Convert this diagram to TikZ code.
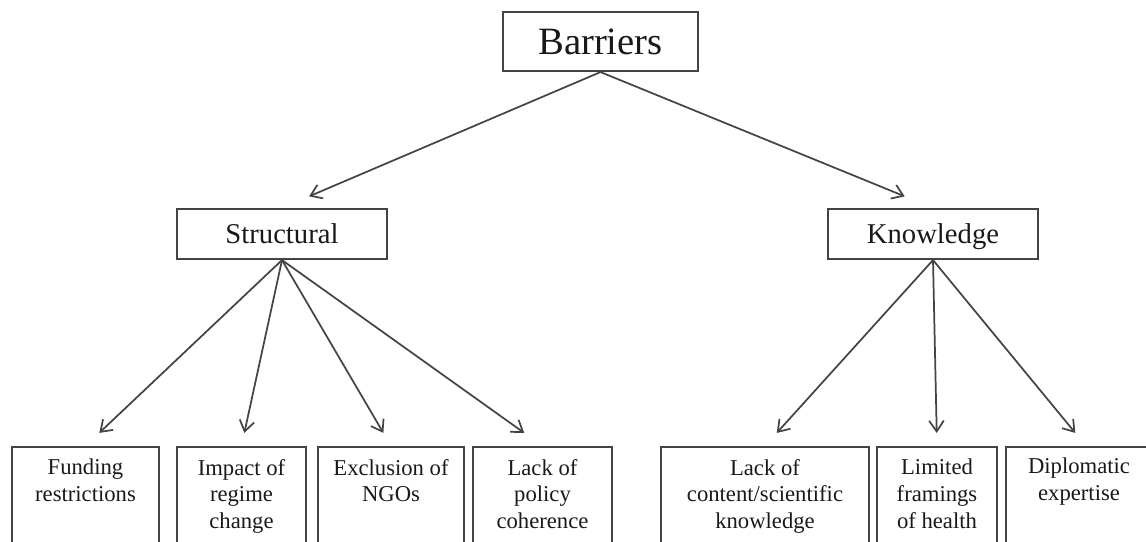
\documentclass[tikz,border=0pt]{standalone}
\usepackage{fontspec}
\setmainfont{Liberation Serif}
\usetikzlibrary{arrows.meta,calc}
\definecolor{edge}{RGB}{68,68,68}
\definecolor{ink}{RGB}{25,25,25}
\begin{document}
\begin{tikzpicture}[x=0.75pt,y=-0.75pt,
  box/.style={draw=edge,line width=1.6pt,rectangle,inner sep=0pt,text=ink},
  mid/.style={box,minimum width={210*0.75pt},minimum height={50*0.75pt},font=\fontsize{21.5}{24}\selectfont,text height=14.6pt,text depth=0pt},
  lab/.style={text=ink,inner sep=0pt,align=center,anchor=north,font=\fontsize{17}{20}\selectfont},
  arr/.style={draw=edge,line width=1.3pt,-{Straight Barb[length=8pt,width=11pt,line width=1.3pt]}}]
\useasboundingbox (0,0) rectangle (1146,542);
\clip (0,0) rectangle (1146,542);
% top levels
\node[box,minimum width={195*0.75pt},minimum height={59*0.75pt},font=\fontsize{29}{32}\selectfont,text height=19.5pt,text depth=0pt] (b) at (600.5,41.5) {Barriers};
\node[mid] (s) at (282,234) {Structural};
\node[mid] (k) at (933,234) {Knowledge};
% bottom boxes
\node[box,minimum width={147*0.75pt},minimum height={150*0.75pt}] (f1) at (85.5,522) {};
\node[box,minimum width={129*0.75pt},minimum height={150*0.75pt}] (f2) at (241.5,522) {};
\node[box,minimum width={146*0.75pt},minimum height={150*0.75pt}] (f3) at (391,522) {};
\node[box,minimum width={139*0.75pt},minimum height={150*0.75pt}] (f4) at (542.5,522) {};
\node[box,minimum width={208*0.75pt},minimum height={150*0.75pt}] (f5) at (765,522) {};
\node[box,minimum width={120*0.75pt},minimum height={150*0.75pt}] (f6) at (937,522) {};
\node[box,minimum width={160*0.75pt},minimum height={150*0.75pt}] (f7) at (1086,522) {};
% labels
\node[lab] (t1) at (85.5,459) {Funding\\restrictions};
\node[lab] (t2) at (241.5,459) {Impact of\\regime\\change};
\node[lab] (t3) at (391,459) {Exclusion of\\NGOs};
\node[lab] (t4) at (542.5,459) {Lack of\\policy\\coherence};
\node[lab] (t5) at (765,459) {Lack of\\content/scientific\\knowledge};
\node[lab] (t6) at (937,459) {Limited\\framings\\of health};
\node[lab] (t7) at (1079,458) {Diplomatic\\expertise};
% arrows
\draw[arr] (b.south) -- ($(b.south)!0.915!(s.north)$);
\draw[arr] (b.south) -- ($(b.south)!0.915!(k.north)$);
\foreach \c in {f1,f2,f3,f4}{
  \draw[arr] (s.south) -- ($(s.south)!0.93!(\c.north)$);
}
\foreach \c in {f5,f6,f7}{
  \draw[arr] (k.south) -- ($(k.south)!0.93!(\c.north)$);
}
\end{tikzpicture}
\end{document}
